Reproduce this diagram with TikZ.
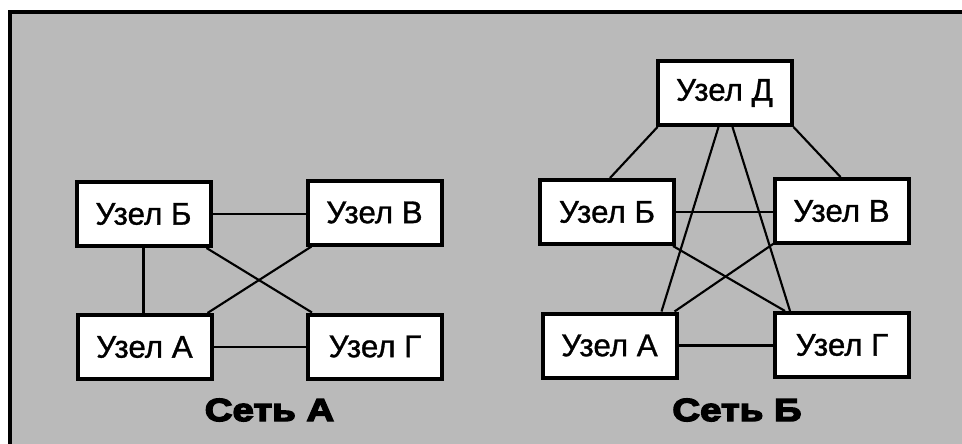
\documentclass[tikz,border=0pt]{standalone}
\usepackage{fontspec}
\usetikzlibrary{calc}
\setmainfont{Liberation Sans}
\newfontfamily\nodefont[FakeBold=1]{Liberation Sans}
\newfontfamily\titlefont[FakeBold=4.5,FakeStretch=1.2]{Liberation Sans Bold}
\definecolor{bggray}{RGB}{186,186,186}
\begin{document}
\begin{tikzpicture}[x=0.75pt,y=-0.75pt,
  nodebox/.style={draw=black,fill=white,line width=3pt,minimum width=100.5pt,minimum height=48pt,inner sep=0pt,font=\nodefont\fontsize{23.5}{27}\selectfont},
  link/.style={draw=black,line width=1.6pt},
  nettitle/.style={font=\titlefont\fontsize{24}{28}\selectfont,inner sep=0pt}]
\useasboundingbox (0,0) rectangle (962,443);
\clip (0,0) rectangle (962,443);
\draw[line width=3pt,fill=bggray] (9.5,11.5) rectangle (990,470);
% Net A
\node[nodebox] (aB) at (143.5,214) {Узел Б};
\node[nodebox] (aV) at (374.5,212.5) {Узел В};
\node[nodebox] (aA) at (144.5,347) {Узел А};
\node[nodebox] (aG) at (375,346.5) {Узел Г};
\draw[link] (aB.east) -- (aB.east -| aV.west);
\draw[link] (aA.east) -- (aA.east -| aG.west);
\draw[link] (aB.south) -- (aB.south |- aA.north);
\draw[link] ($(aV.south)+(-1,0)$) -- ($(aV.south)+(-1,0)$ |- aG.north);
\draw[link] ($(aB.south east)+(-6,0)$) -- ($(aG.north west)+(6,0)$);
\draw[link] ($(aV.south west)+(6,0)$) -- ($(aA.north east)+(-6,0)$);
\node[nettitle] (tA) at (269.5,410) {Сеть А};
% Net B
\node[nodebox] (bD) at (724.5,93) {Узел Д};
\node[nodebox] (bB) at (607,212) {Узел Б};
\node[nodebox] (bV) at (841.5,211) {Узел В};
\node[nodebox] (bA) at (609.5,345.5) {Узел А};
\node[nodebox] (bG) at (842,345) {Узел Г};
\draw[link] (bB.east) -- (bB.east -| bV.west);
\draw[link] (bA.east) -- (bA.east -| bG.west);
\draw[link] ($(bB.south)+(1,0)$) -- ($(bB.south)+(1,0)$ |- bA.north);
\draw[link] ($(bV.south)+(1.5,0)$) -- ($(bV.south)+(1.5,0)$ |- bG.north);
\draw[link] ($(bB.south east)+(-3,0)$) -- ($(bG.north west)+(12,0)$);
\draw[link] ($(bV.south west)+(2,-2)$) -- ($(bA.north east)+(-4,0)$);
\draw[link] ($(bD.south west)+(2,0)$) -- ($(bB.north)+(3,0)$);
\draw[link] ($(bD.south east)+(0,0)$) -- ($(bV.north)+(-1,0)$);
\draw[link] ($(bD.south)+(-6,0)$) -- ($(bA.north east)+(-17,0)$);
\draw[link] ($(bD.south)+(8,0)$) -- ($(bG.north west)+(17,0)$);
\node[nettitle] (tB) at (737,410) {Сеть Б};
\end{tikzpicture}
\end{document}
